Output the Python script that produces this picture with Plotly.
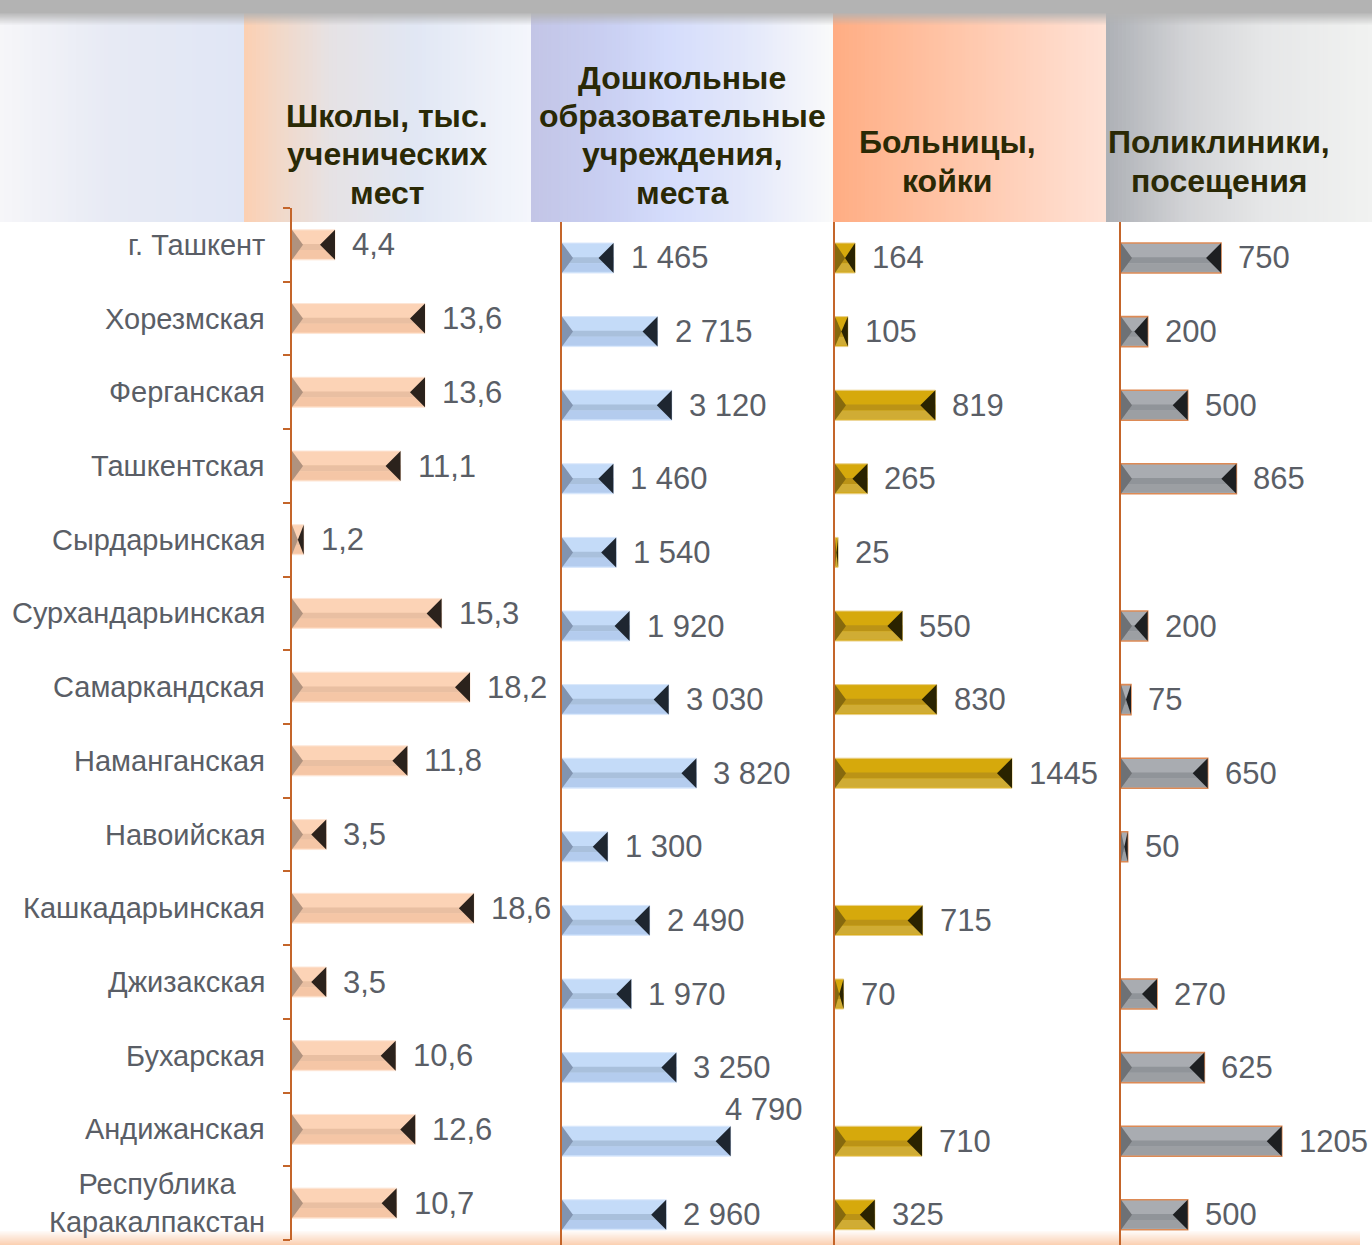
import plotly.graph_objects as go

W, H = 1372, 1245

# ---------------- data ----------------
regions = ["г. Ташкент", "Хорезмская", "Ферганская", "Ташкентская", "Сырдарьинская",
           "Сурхандарьинская", "Самаркандская", "Наманганская", "Навоийская",
           "Кашкадарьинская", "Джизакская", "Бухарская", "Андижанская",
           "Республика<br>Каракалпакстан"]

schools = [4.4, 13.6, 13.6, 11.1, 1.2, 15.3, 18.2, 11.8, 3.5, 18.6, 3.5, 10.6, 12.6, 10.7]
preschool = [1465, 2715, 3120, 1460, 1540, 1920, 3030, 3820, 1300, 2490, 1970, 3250, 4790, 2960]
hospitals = [164, 105, 819, 265, 25, 550, 830, 1445, None, 715, 70, None, 710, 325]
polyclinics = [750, 200, 500, 865, None, 200, 75, 650, 50, None, 270, 625, 1205, 500]

titles = [["Школы, тыс.", "ученических", "мест"],
          ["Дошкольные", "образовательные", "учреждения,", "места"],
          ["Больницы,", "койки"],
          ["Поликлиники,", "посещения"]]


def fmt_dec(v):
    return f"{v:.1f}".replace(".", ",")


def fmt_space(v):
    return f"{v:,}".replace(",", " ")


def fmt_plain(v):
    return str(v)


# ---------------- helpers ----------------
def px(x):
    return x / W


def py(y):
    return 1 - y / H


def hex2rgb(h):
    h = h.lstrip("#")
    return tuple(int(h[i:i + 2], 16) for i in (0, 2, 4))


def grad_color(stops, t):
    for (t0, c0), (t1, c1) in zip(stops[:-1], stops[1:]):
        if t0 <= t <= t1:
            f = 0 if t1 == t0 else (t - t0) / (t1 - t0)
            a, b = hex2rgb(c0), hex2rgb(c1)
            return "rgb(%d,%d,%d)" % tuple(round(a[k] + (b[k] - a[k]) * f) for k in range(3))
    return stops[-1][1]


FONT = "Liberation Sans, Arial, sans-serif"
TXT = "#5a5e66"
AXC = "#c4652a"
VAL_SIZE = 31

panels = [
    dict(vals=schools, fmt=fmt_dec, left=292, right=562, scale=9.78,
         top=208, bottom=1240, c0=208 + 1032 / 28, step=1032 / 14, ticks=True,
         top_c="#fcd3b6", band1="#dcb395", band2="#f5c6a6", ltri="#b0927e", rtri="#2b221c",
         edge="#fde6d6", ew=1),
    dict(vals=preschool, fmt=fmt_space, left=562, right=815, scale=0.0352,
         top=222, bottom=1245, c0=258, step=73.6, ticks=False,
         top_c="#c4dbf8", band1="#97adc9", band2="#b4ccee", ltri="#8294b0", rtri="#1e2630",
         edge="#dbe8fb", ew=1),
    dict(vals=hospitals, fmt=fmt_plain, left=835, right=1106, scale=0.1225,
         top=222, bottom=1245, c0=258, step=73.6, ticks=False,
         top_c="#d6a90c", band1="#a8861e", band2="#d0ac34", ltri="#86690e", rtri="#2a2300",
         edge="#ead08a", ew=1),
    dict(vals=polyclinics, fmt=fmt_plain, left=1121, right=1372, scale=0.1334,
         top=222, bottom=1245, c0=258, step=73.6, ticks=False,
         top_c="#a9acb1", band1="#818488", band2="#9c9fa3", ltri="#6e7175", rtri="#1d1f21",
         edge="#dd8a55", ew=1.6),
]

fig = go.Figure()
shapes = []
annotations = []

# ---------------- header backgrounds ----------------
header_segments = [
    (0, 244, [(0, "#f6f6f9"), (0.45, "#e7eaf4"), (1, "#e0e6f5")]),
    (244, 531, [(0, "#fccfb2"), (0.12, "#f2d8c8"), (0.3, "#e6e2e4"), (0.6, "#e1e7f4"), (1, "#f4f6fc")]),
    (531, 833, [(0, "#c3c5e6"), (0.25, "#c9cff2"), (0.45, "#d4dcfb"), (0.7, "#e2e7fa"), (1, "#fafafa")]),
    (833, 1106, [(0, "#ffad83"), (0.4, "#ffc3a5"), (1, "#ffe2d6")]),
    (1106, 1372, [(0, "#adb0b5"), (0.3, "#d2d3d6"), (0.6, "#e6e7e8"), (1, "#f1f2f1")]),
]
HT, HB = 12, 222
for x0, x1, stops in header_segments:
    n = max(1, int((x1 - x0) / 4))
    w = (x1 - x0) / n
    for k in range(n):
        a = x0 + k * w
        b = min(x1, a + w + 0.8)
        c = grad_color(stops, (k + 0.5) / n)
        shapes.append(dict(type="rect", xref="paper", yref="paper", layer="below",
                           x0=px(a), x1=px(b), y0=py(HB), y1=py(HT),
                           fillcolor=c, line=dict(width=0)))
# top grey bar with soft edge
shapes.append(dict(type="rect", xref="paper", yref="paper", layer="below",
                   x0=0, x1=1, y0=py(13), y1=1, fillcolor="#b3b3b3", line=dict(width=0)))
for k in range(12):
    a = 13 + k * 1.0
    shapes.append(dict(type="rect", xref="paper", yref="paper", layer="below",
                       x0=0, x1=1, y0=py(a + 1.1), y1=py(a),
                       fillcolor="rgba(179,179,179,%.2f)" % (0.9 * (1 - k / 12)),
                       line=dict(width=0)))
# bottom peach glow
for k in range(14):
    a = 1231 + k
    shapes.append(dict(type="rect", xref="paper", yref="paper", layer="below",
                       x0=0, x1=px(1360), y0=py(a + 1.1), y1=py(a),
                       fillcolor="rgba(250,196,158,%.2f)" % (0.08 + 0.7 * k / 13),
                       line=dict(width=0)))

# ---------------- panels ----------------
BAR_PX = 30
for k, p in enumerate(panels):
    ax = "" if k == 0 else str(k + 1)
    xa, ya = "x" + ax, "y" + ax
    rng_x = (p["right"] - p["left"]) / p["scale"]
    y_top = (p["top"] - p["c0"]) / p["step"]
    y_bot = (p["bottom"] - p["c0"]) / p["step"]
    hh = BAR_PX / p["step"] / 2

    idx = [i for i, v in enumerate(p["vals"]) if v is not None]
    vals = [p["vals"][i] for i in idx]

    fig.add_trace(go.Bar(
        x=vals, y=idx, orientation="h", width=2 * hh,
        marker=dict(color=p["top_c"], line=dict(color=p["edge"], width=p["ew"])),
        xaxis=xa, yaxis=ya, showlegend=False, hoverinfo="skip"))

    for i, v in zip(idx, vals):
        L = v * p["scale"]
        bl = min(11, L / 2) / p["scale"]
        br = min(15, L / 2) / p["scale"]
        shapes.append(dict(type="rect", xref=xa, yref=ya, x0=0, x1=v, y0=i - hh * 0.05,
                           y1=i + hh * 0.35, fillcolor=p["band1"], line=dict(width=0), opacity=0.6))
        shapes.append(dict(type="rect", xref=xa, yref=ya, x0=0, x1=v, y0=i + hh * 0.35,
                           y1=i + hh * 0.92, fillcolor=p["band2"], line=dict(width=0)))
        shapes.append(dict(type="path", xref=xa, yref=ya,
                           path=f"M 0,{i - hh} L 0,{i + hh} L {bl},{i} Z",
                           fillcolor=p["ltri"], line=dict(width=0)))
        shapes.append(dict(type="path", xref=xa, yref=ya,
                           path=f"M {v},{i - hh} L {v},{i + hh} L {v - br},{i} Z",
                           fillcolor=p["rtri"], line=dict(width=0)))

        label = p["fmt"](v)
        est = len(label) * 0.55 * VAL_SIZE
        end_px = p["left"] + L
        if end_px + 16 + est > p["right"]:
            annotations.append(dict(x=v, y=i, xref=xa, yref=ya, text=label, showarrow=False,
                                    xanchor="left", yanchor="middle", xshift=-8, yshift=32,
                                    font=dict(family=FONT, size=VAL_SIZE, color=TXT)))
        else:
            annotations.append(dict(x=v, y=i, xref=xa, yref=ya, text=label, showarrow=False,
                                    xanchor="left", yanchor="middle", xshift=15,
                                    font=dict(family=FONT, size=VAL_SIZE, color=TXT)))

    xkw = dict(domain=[px(p["left"]), min(1, px(p["right"]))], range=[0, rng_x],
               visible=False, anchor=ya, fixedrange=True)
    ykw = dict(domain=[max(0, py(p["bottom"])), py(p["top"])], range=[y_bot, y_top],
               anchor=xa, showgrid=False, zeroline=False, showline=True,
               linecolor=AXC, linewidth=2, showticklabels=False, fixedrange=True)
    if p["ticks"]:
        ykw.update(tickmode="array",
                   tickvals=[j - 0.5 for j in range(len(regions) + 1)],
                   ticks="outside", ticklen=7, tickwidth=2, tickcolor=AXC)
    else:
        ykw.update(ticks="")
    fig.update_layout(**{"xaxis" + ax: xkw, "yaxis" + ax: ykw})

# category labels (right-aligned next to the schools axis)
for i, name in enumerate(regions):
    annotations.append(dict(x=px(267), y=i, xref="paper", yref="y", text=name,
                            showarrow=False, xanchor="right", yanchor="middle", align="center",
                            font=dict(family=FONT, size=29, color=TXT)))

# header titles, one annotation per line
title_cx = [387, 682, 947, 1219]
title_last = [193, 193, 181, 181]
LINE_GAP = 38.5
for lines, cx, last in zip(titles, title_cx, title_last):
    n = len(lines)
    for j, line in enumerate(lines):
        cy = last - (n - 1 - j) * LINE_GAP
        annotations.append(dict(x=px(cx), y=py(cy), xref="paper", yref="paper",
                                text="<b>" + line + "</b>", showarrow=False,
                                xanchor="center", yanchor="middle",
                                font=dict(family=FONT, size=32, color="#2a2905")))

fig.update_layout(
    width=W, height=H, autosize=False,
    margin=dict(l=0, r=0, t=0, b=0),
    paper_bgcolor="white", plot_bgcolor="rgba(0,0,0,0)",
    showlegend=False, bargap=0,
    shapes=shapes, annotations=annotations,
    font=dict(family=FONT),
)

fig.write_html("out.html", config={"displayModeBar": False, "staticPlot": True},
               post_script="document.body.style.margin='0';")
